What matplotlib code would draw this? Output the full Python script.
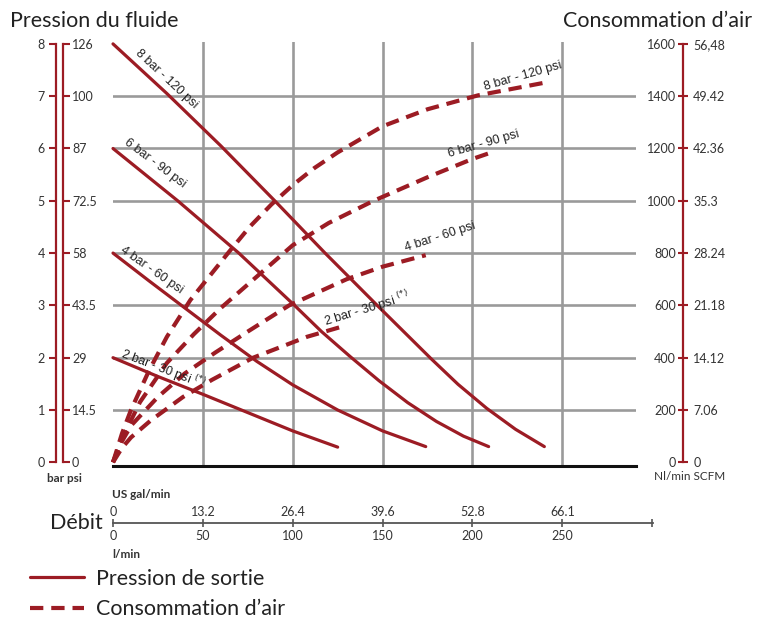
import numpy as np
import matplotlib.pyplot as plt

W, H = 757, 622
RED = '#9c1c24'
GRID = '#9a9a9a'
TXT = '#333333'
MYRIAD = ['Lato', 'DejaVu Sans']
ARIAL = ['Liberation Sans', 'DejaVu Sans']

plt.rcParams['font.family'] = MYRIAD

# pression de sortie : débit (l/min) -> pression (bar)
flow_p8 = [0, 30, 60, 90, 118, 147, 162, 177, 192, 208, 224, 240]
pres_p8 = [8, 7.05, 6.05, 5.0, 4.0, 3.0, 2.49, 1.98, 1.49, 1.03, 0.63, 0.3]
flow_p6 = [0, 36, 70, 101, 116, 132, 148, 164, 180, 195, 209]
pres_p6 = [6, 5, 4, 3, 2.5, 2.02, 1.56, 1.14, 0.78, 0.5, 0.3]
flow_p4 = [0, 20, 40, 60, 80, 100, 125, 150, 174]
pres_p4 = [4, 3.47, 2.95, 2.43, 1.93, 1.48, 1.0, 0.6, 0.3]
flow_p2 = [0, 25, 50, 75, 100, 125]
pres_p2 = [2, 1.64, 1.3, 0.95, 0.6, 0.29]

# consommation d'air : débit (l/min) -> Nl/min
flow_a8 = [0, 5, 10, 20, 30, 43, 64, 76, 88, 100, 112, 125, 150, 175, 203, 242]
air_a8 = [0, 110, 200, 350, 480, 620, 800, 900, 985, 1060, 1125, 1185, 1285, 1350, 1403, 1454]
flow_a6 = [0, 5, 15, 30, 45, 60, 80, 100, 120, 145, 175, 200, 211]
air_a6 = [0, 90, 230, 380, 490, 590, 710, 830, 915, 1000, 1090, 1160, 1186]
flow_a4 = [0, 5, 10, 25, 40, 57, 75, 98, 130, 150, 174]
air_a4 = [0, 80, 140, 250, 340, 420, 500, 600, 700, 748, 792]
flow_a2 = [0, 5, 10, 21, 39, 55, 78, 108, 126]
air_a2 = [0, 55, 95, 160, 250, 315, 400, 480, 516]

bar_ticks = [0, 1, 2, 3, 4, 5, 6, 7, 8]
psi_labels = ['0', '14.5', '29', '43.5', '58', '72.5', '87', '100', '126']
nl_ticks = [0, 200, 400, 600, 800, 1000, 1200, 1400, 1600]
scfm_labels = ['0', '7.06', '14.12', '21.18', '28.24', '35.3', '42.36', '49.42', '56,48']
lmin_ticks = [0, 50, 100, 150, 200, 250, 300]
lmin_labels = ['0', '50', '100', '150', '200', '250', '']
gal_labels = ['0', '13.2', '26.4', '39.6', '52.8', '66.1']

fig = plt.figure(figsize=(W / 100, H / 100), dpi=100)

# main plot area (pixels: x 113..636, y 42..466)
bottom, height = (H - 466) / H, 424 / H
ylim = (-0.071, 8.036)
ax = fig.add_axes([113 / W, bottom, 523 / W, height])
ax.set_xlim(0, 291)
ax.set_ylim(*ylim)
ax.set_xticks([50, 100, 150, 200, 250])
ax.set_yticks([1, 2, 3, 4, 5, 6, 7])
ax.tick_params(length=0, labelbottom=False, labelleft=False)
ax.grid(True, color=GRID, lw=1.9)
ax.set_axisbelow(True)
for s in ['top', 'left', 'right']:
    ax.spines[s].set_visible(False)
ax.spines['bottom'].set_color('#111111')
ax.spines['bottom'].set_linewidth(2.2)

kw_s = dict(color=RED, lw=2.3, solid_capstyle='round', solid_joinstyle='round', clip_on=False)
kw_d = dict(color=RED, lw=3.0, dashes=(3.2, 1.9), clip_on=False)
p8, = ax.plot(flow_p8, pres_p8, **kw_s)
ax.plot(flow_p6, pres_p6, **kw_s)
ax.plot(flow_p4, pres_p4, **kw_s)
ax.plot(flow_p2, pres_p2, **kw_s)
a8, = ax.plot(flow_a8, np.array(air_a8) / 200, **kw_d)
ax.plot(flow_a6, np.array(air_a6) / 200, **kw_d)
ax.plot(flow_a4, np.array(air_a4) / 200, **kw_d)
ax.plot(flow_a2, np.array(air_a2) / 200, **kw_d)

# curve labels
lab = dict(family=ARIAL, fontsize=9, color='#222222', ha='center', va='center',
           rotation_mode='anchor')
ax.text(29.5, 7.33, '8 bar - 120 psi', rotation=-43, **lab)
ax.text(23.4, 5.72, '6 bar - 90 psi', rotation=-37, **lab)
ax.text(21.7, 3.68, '4 bar - 60 psi', rotation=-35, **lab)
ax.text(27.8, 1.78, '2 bar - 30 psi $^{(*)}$', rotation=-21, **lab)
ax.text(228, 7.39, '8 bar - 120 psi', rotation=16, **lab)
ax.text(206, 6.09, '6 bar - 90 psi', rotation=16, **lab)
ax.text(182, 4.31, '4 bar - 60 psi', rotation=18, **lab)
ax.text(141, 2.93, '2 bar - 30 psi $^{(*)}$', rotation=17, **lab)

# left scale: bar / psi
ax_l = fig.add_axes([56 / W, bottom, 7 / W, height])
ax_l.set_ylim(*ylim)
ax_l.set_xticks([])
ax_l.patch.set_visible(False)
ax_l.set_yticks(bar_ticks)
ax_l.tick_params(axis='y', direction='out', length=5, width=1.5, color=RED,
                 labelsize=9, labelcolor=TXT, pad=3)
for s in ['top', 'bottom', 'right']:
    ax_l.spines[s].set_visible(False)
ax_l.spines['left'].set_color(RED)
ax_l.spines['left'].set_linewidth(1.6)
ax_l.spines['left'].set_bounds(0, 8)
ax_l2 = ax_l.twinx()
ax_l2.set_ylim(*ylim)
ax_l2.set_yticks(bar_ticks, psi_labels)
ax_l2.tick_params(axis='y', direction='out', length=5, width=1.5, color=RED,
                  labelsize=9, labelcolor=TXT, pad=1.5)
for s in ['top', 'bottom', 'left']:
    ax_l2.spines[s].set_visible(False)
ax_l2.spines['right'].set_color(RED)
ax_l2.spines['right'].set_linewidth(1.6)
ax_l2.spines['right'].set_bounds(0, 8)

# right scale: Nl/min / SCFM
ax_r = fig.add_axes([683 / W, bottom, 0.5 / W, height])
ax_r.set_ylim(ylim[0] * 200, ylim[1] * 200)
ax_r.set_xticks([])
ax_r.patch.set_visible(False)
ax_r.set_yticks(nl_ticks)
ax_r.tick_params(axis='y', direction='inout', length=6.5, width=1.5, color=RED,
                 labelsize=9, labelcolor=TXT, pad=2)
for s in ['top', 'bottom', 'right']:
    ax_r.spines[s].set_visible(False)
ax_r.spines['left'].set_color(RED)
ax_r.spines['left'].set_linewidth(1.6)
ax_r.spines['left'].set_bounds(0, 1600)
ax_r2 = ax_r.twinx()
ax_r2.set_ylim(ylim[0] * 200, ylim[1] * 200)
ax_r2.set_yticks(nl_ticks, scfm_labels)
ax_r2.tick_params(axis='y', length=0, labelsize=9, labelcolor=TXT, pad=7)
for s in ax_r2.spines.values():
    s.set_visible(False)

# bottom scale: débit
ax_b = fig.add_axes([113 / W, (H - 523) / H, 540 / W, 1 / H])
ax_b.set_xlim(0, 300.5)
ax_b.set_yticks([])
ax_b.patch.set_visible(False)
ax_b.set_xticks(lmin_ticks, lmin_labels)
ax_b.tick_params(axis='x', direction='inout', length=5.5, width=1.2, color='#555555',
                 labelsize=9, labelcolor=TXT, pad=2.5)
for s in ['top', 'left', 'right']:
    ax_b.spines[s].set_visible(False)
ax_b.spines['bottom'].set_color('#555555')
ax_b.spines['bottom'].set_linewidth(1.3)
ax_b2 = ax_b.twiny()
ax_b2.set_xlim(0, 300.5)
ax_b2.set_xticks(lmin_ticks[:-1], gal_labels)
ax_b2.tick_params(axis='x', length=0, labelsize=9, labelcolor=TXT, pad=3)
for s in ax_b2.spines.values():
    s.set_visible(False)

# texts
fig.text(10 / W, 1 - 27 / H, 'Pression du fluide', fontsize=15.5, color='#222222', va='baseline')
fig.text(752 / W, 1 - 27 / H, 'Consommation d’air', fontsize=15.5, color='#222222',
         va='baseline', ha='right')
fig.text(64 / W, 1 - 479 / H, 'bar psi', fontsize=8.5, fontweight='bold', color=TXT,
         ha='center', va='center')
fig.text(690 / W, 1 - 476 / H, 'Nl/min SCFM', fontsize=8.5, color=TXT,
         ha='center', va='center')
fig.text(112 / W, 1 - 494 / H, 'US gal/min', fontsize=8.5, fontweight='bold', color=TXT,
         va='center')
fig.text(112 / W, 1 - 555 / H, 'l/min', fontsize=8.5, fontweight='bold', color=TXT,
         va='center')
fig.text(103 / W, 1 - 523 / H, 'Débit', fontsize=15.5, color='#222222', ha='right',
         va='center')

fig.legend(handles=[p8, a8], labels=['Pression de sortie', 'Consommation d’air'],
           loc='upper left', bbox_to_anchor=(30 / W, 1 - 569 / H), frameon=False,
           fontsize=15.5, handlelength=2.5, handletextpad=0.55, borderpad=0,
           borderaxespad=0, labelspacing=0.48, labelcolor='#222222')

fig.savefig('out.png', dpi=100)
